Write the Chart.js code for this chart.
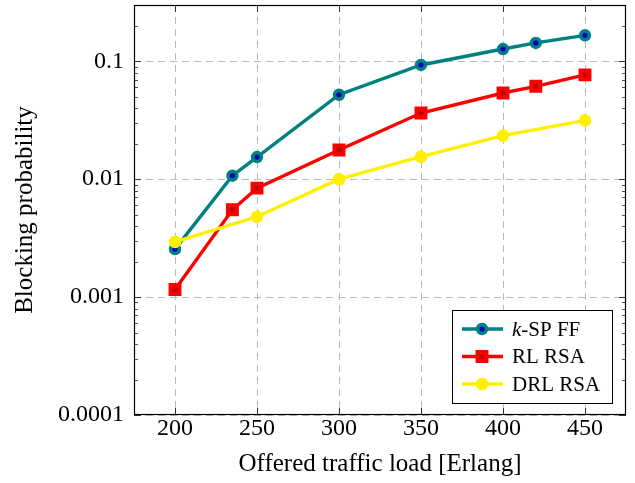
<!DOCTYPE html>
<html>
<head>
<meta charset="utf-8">
<script src="https://cdn.jsdelivr.net/npm/chart.js@4/dist/chart.umd.min.js"></script>
<style>
  html, body { margin: 0; padding: 0; background: #fff; }
</style>
</head>
<body>
<canvas id="chart" width="635" height="483"></canvas>
<script>
// offered load [Erlang] and blocking probability per algorithm
const loads = [200, 235, 250, 300, 350, 400, 420, 450];
const kspFF = [0.00255, 0.0107, 0.0154, 0.052, 0.093, 0.127, 0.143, 0.166];
const rlRSA = [0.00116, 0.0055, 0.0084, 0.0177, 0.0364, 0.0538, 0.0613, 0.0766];
const drlLoads = [200, 250, 300, 350, 400, 450];
const drlRSA = [0.00294, 0.0048, 0.0100, 0.0155, 0.0234, 0.0315];

const xTicks = [200, 250, 300, 350, 400, 450];
const yTicks = [0.0001, 0.001, 0.01, 0.1];
const yTickLabels = ['0.0001', '0.001', '0.01', '0.1'];

const serif = "'Liberation Serif', 'DejaVu Serif', serif";

function pts(xs, ys) {
  return xs.map((x, i) => ({ x: x, y: ys[i] }));
}

// frame + inner tick marks like pgfplots
const frameTicks = {
  id: 'frameTicks',
  afterDatasetsDraw(chart) {
    const ctx = chart.ctx;
    const a = chart.chartArea;
    const xs = chart.scales.x, ys = chart.scales.y;
    ctx.save();
    ctx.strokeStyle = '#555';
    ctx.lineWidth = 1;
    ctx.beginPath();
    for (let d = -4; d <= -1; d++) {
      for (let m = 2; m <= 9; m++) {
        const v = m * Math.pow(10, d);
        if (v > ys.max) continue;
        const py = Math.round(ys.getPixelForValue(v)) + 0.5;
        ctx.moveTo(a.left, py); ctx.lineTo(a.left + 4, py);
        ctx.moveTo(a.right, py); ctx.lineTo(a.right - 4, py);
      }
    }
    ctx.stroke();
    ctx.strokeStyle = '#333';
    ctx.beginPath();
    yTicks.forEach(v => {
      const py = Math.round(ys.getPixelForValue(v)) + 0.5;
      ctx.moveTo(a.left, py); ctx.lineTo(a.left + 7, py);
      ctx.moveTo(a.right, py); ctx.lineTo(a.right - 7, py);
    });
    xTicks.forEach(v => {
      const px = Math.round(xs.getPixelForValue(v)) + 0.5;
      ctx.moveTo(px, a.bottom); ctx.lineTo(px, a.bottom - 7);
      ctx.moveTo(px, a.top); ctx.lineTo(px, a.top + 7);
    });
    ctx.stroke();
    ctx.strokeStyle = '#000';
    ctx.lineWidth = 1.2;
    ctx.strokeRect(a.left + 0.5, a.top + 0.5, a.right - a.left - 1, a.bottom - a.top - 1);
    ctx.restore();
  }
};

// legend box in lower right corner of the plot area
const boxLegend = {
  id: 'boxLegend',
  afterDraw(chart) {
    const ctx = chart.ctx;
    const a = chart.chartArea;
    const w = 160, h = 93;
    const bx = a.right - 14 - w, by = a.bottom - 12 - h;
    ctx.save();
    ctx.fillStyle = '#fff';
    ctx.fillRect(bx, by, w, h);
    ctx.strokeStyle = '#000';
    ctx.lineWidth = 1;
    ctx.strokeRect(bx + 0.5, by + 0.5, w, h);
    chart.data.datasets.forEach((ds, i) => {
      const cy = by + 19 + i * 27.5;
      ctx.strokeStyle = ds.borderColor;
      ctx.lineWidth = ds.borderWidth;
      ctx.beginPath();
      ctx.moveTo(bx + 10, cy); ctx.lineTo(bx + 51, cy);
      ctx.stroke();
      ctx.fillStyle = ds.pointBackgroundColor;
      ctx.strokeStyle = ds.pointBorderColor;
      ctx.lineWidth = ds.pointBorderWidth;
      ctx.beginPath();
      if (ds.pointStyle === 'rect') {
        const s = Math.SQRT1_2 * ds.pointRadius;
        ctx.rect(bx + 30 - s, cy - s, 2 * s, 2 * s);
      } else {
        ctx.arc(bx + 30, cy, ds.pointRadius, 0, Math.PI * 2);
      }
      ctx.fill();
      ctx.stroke();
      ctx.fillStyle = '#000';
      ctx.textBaseline = 'middle';
      let tx = bx + 60;
      let label = ds.label;
      if (label.startsWith('k-')) {
        ctx.font = 'italic 21px ' + serif;
        ctx.fillText('k', tx, cy + 1);
        tx += ctx.measureText('k').width;
        label = label.slice(1);
      }
      ctx.font = '21px ' + serif;
      ctx.fillText(label, tx, cy + 1);
    });
    ctx.restore();
  }
};

new Chart(document.getElementById('chart').getContext('2d'), {
  type: 'line',
  data: {
    datasets: [{
      label: 'k-SP FF',
      data: pts(loads, kspFF),
      borderColor: '#008080',
      borderWidth: 3.4,
      pointStyle: 'circle',
      pointRadius: 4.4,
      pointBorderWidth: 3.6,
      pointBorderColor: '#008080',
      pointBackgroundColor: '#0000c0',
      order: 3
    }, {
      label: 'RL RSA',
      data: pts(loads, rlRSA),
      borderColor: '#ff0000',
      borderWidth: 3.4,
      pointStyle: 'rect',
      pointRadius: 6.3,
      pointBorderWidth: 4,
      pointBorderColor: '#ff0000',
      pointBackgroundColor: '#c80000',
      order: 2
    }, {
      label: 'DRL RSA',
      data: pts(drlLoads, drlRSA),
      borderColor: '#fff000',
      borderWidth: 3.4,
      pointStyle: 'circle',
      pointRadius: 5.3,
      pointBorderWidth: 2,
      pointBorderColor: '#fff000',
      pointBackgroundColor: '#fff000',
      order: 1
    }]
  },
  options: {
    responsive: false,
    animation: false,
    layout: { autoPadding: false, padding: { left: 0, right: 9, top: 5, bottom: 0 } },
    plugins: {
      legend: { display: false },
      tooltip: { enabled: false }
    },
    scales: {
      x: {
        type: 'linear',
        min: 175,
        max: 475,
        afterBuildTicks: (scale) => { scale.ticks = xTicks.map(v => ({ value: v })); },
        afterFit: (scale) => { scale.height = 68; scale.paddingLeft = 0; scale.paddingRight = 0; },
        grid: { color: '#b8b8b8', lineWidth: 1, drawTicks: false },
        border: { display: false, dash: [7, 5] },
        ticks: {
          color: '#000',
          padding: -1,
          maxRotation: 0,
          font: { family: serif, size: 24 }
        },
        title: {
          display: true,
          text: 'Offered traffic load [Erlang]',
          color: '#000',
          font: { family: serif, size: 25 },
          padding: { top: 0, bottom: 4 }
        }
      },
      y: {
        type: 'logarithmic',
        min: 0.0001,
        max: 0.3,
        afterBuildTicks: (scale) => { scale.ticks = yTicks.map(v => ({ value: v })); },
        afterFit: (scale) => { scale.width = 134; scale.paddingTop = 0; scale.paddingBottom = 0; },
        grid: { color: '#b8b8b8', lineWidth: 1, drawTicks: false },
        border: { display: false, dash: [7, 5] },
        ticks: {
          color: '#000',
          padding: 10,
          font: { family: serif, size: 24 },
          callback: (v) => yTickLabels[yTicks.indexOf(v)]
        },
        title: {
          display: true,
          text: 'Blocking probability',
          color: '#000',
          font: { family: serif, size: 25 },
          padding: { top: 10, bottom: 0 }
        }
      }
    }
  },
  plugins: [frameTicks, boxLegend]
});
</script>
</body>
</html>
